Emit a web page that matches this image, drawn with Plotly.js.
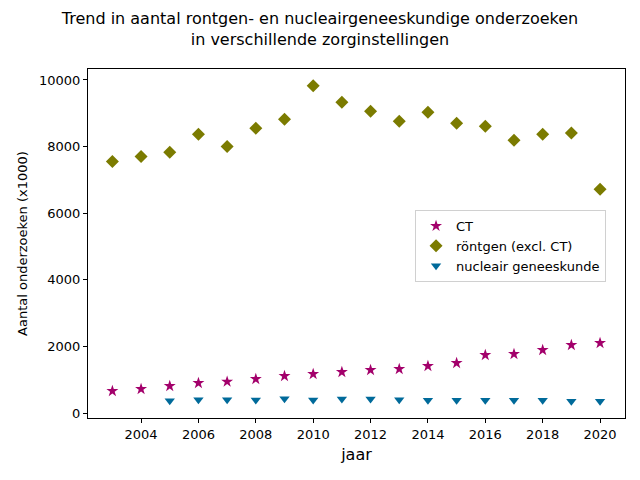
<!DOCTYPE html>
<html>
<head>
<meta charset="utf-8">
<script src="https://cdn.plot.ly/plotly-3.0.1.min.js"></script>
<style>html,body{margin:0;padding:0;background:#fff;}</style>
</head>
<body>
<div id="chart" style="width:640px;height:480px;"></div>
<script>
const years = [2003,2004,2005,2006,2007,2008,2009,2010,2011,2012,2013,2014,2015,2016,2017,2018,2019,2020];
const ctValues = [660,720,810,900,940,1020,1110,1170,1230,1290,1320,1410,1500,1740,1770,1890,2040,2100];
const rontgenValues = [7550,7700,7830,8370,8000,8550,8820,9830,9330,9060,8760,9030,8700,8610,8190,8370,8410,6720];
const nucYears = [2005,2006,2007,2008,2009,2010,2011,2012,2013,2014,2015,2016,2017,2018,2019,2020];
const nucValues = [370,400,400,390,430,390,420,420,400,380,380,380,380,380,350,350];
const xTicks = [2004,2006,2008,2010,2012,2014,2016,2018,2020];
const yTicks = [0,2000,4000,6000,8000,10000];

const traces = [
  {x: years, y: ctValues, name: 'CT', type: 'scatter', mode: 'markers',
   marker: {symbol: 'star', size: 9, color: '#a3006b'}},
  {x: years, y: rontgenValues, name: 'röntgen (excl. CT)', type: 'scatter', mode: 'markers',
   marker: {symbol: 'diamond', size: 10, color: '#7b7b00'}},
  {x: nucYears, y: nucValues, name: 'nucleair geneeskunde', type: 'scatter', mode: 'markers',
   marker: {symbol: 'triangle-down', size: 9, color: '#006a9a'}}
];

const layout = {
  width: 640, height: 480,
  margin: {l: 88, r: 15, t: 69, b: 62},
  paper_bgcolor: '#fff', plot_bgcolor: '#fff',
  font: {family: 'DejaVu Sans', size: 13, color: '#000'},
  title: {text: 'Trend in aantal rontgen- en nucleairgeneeskundige onderzoeken<br>in verschillende zorginstellingen',
          font: {size: 16, family: 'DejaVu Sans', color: '#000'}, x: 0.5, xanchor: 'center', y: 0.95, yanchor: 'top'},
  xaxis: {range: [2002.15, 2020.87], tickvals: xTicks, ticktext: xTicks.map(String),
          showgrid: false, zeroline: false, showline: true, mirror: true, linecolor: '#000', linewidth: 1,
          ticks: 'outside', ticklen: 4, tickcolor: '#000', tickfont: {size: 13},
          title: {text: 'jaar', font: {size: 16}, standoff: 8}},
  yaxis: {range: [-150, 10330], tickvals: yTicks, ticktext: yTicks.map(String),
          showgrid: false, zeroline: false, showline: true, mirror: true, linecolor: '#000', linewidth: 1,
          ticks: 'outside', ticklen: 4, tickcolor: '#000', tickfont: {size: 13},
          title: {text: 'Aantal onderzoeken (x1000)', font: {size: 13}, standoff: 8}},
  legend: {x: 0.609, y: 0.596, xanchor: 'left', yanchor: 'top', bgcolor: 'rgba(255,255,255,0.8)',
           bordercolor: '#d0d0d0', borderwidth: 1, font: {size: 13}, tracegroupgap: 0},
  showlegend: true
};

Plotly.newPlot('chart', traces, layout, {displayModeBar: false, staticPlot: true});
</script>
</body>
</html>
